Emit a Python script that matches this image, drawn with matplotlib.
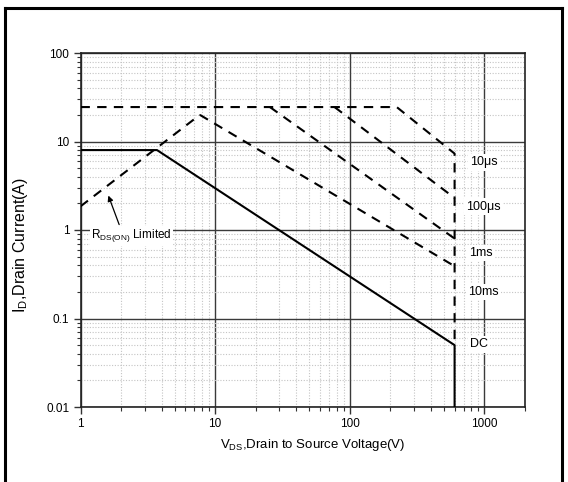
import matplotlib
matplotlib.use("Agg")
import matplotlib.pyplot as plt
from matplotlib.lines import Line2D
from matplotlib.ticker import LogLocator, FixedLocator, NullFormatter, FixedFormatter

plt.rcParams['font.family'] = ['Liberation Sans', 'DejaVu Sans']
plt.rcParams['mathtext.fontset'] = 'custom'
plt.rcParams['mathtext.rm'] = 'Liberation Sans'
plt.rcParams['mathtext.it'] = 'Liberation Sans'

# ---- data ----
dc_v = [1, 3.7, 600, 600]
dc_i = [8, 8, 0.05, 0.01]
rds_v = [1, 7.7]
rds_i = [1.85, 20]
ms10_v = [7.7, 600]
ms10_i = [20, 0.39]
ms1_v = [25.5, 600]
ms1_i = [24.5, 0.8]
us100_v = [77, 600]
us100_i = [24.5, 2.3]
us10_v = [1, 223, 600, 600]
us10_i = [24.5, 24.5, 7.3, 0.05]

x_ticks = [1, 10, 100, 1000]
x_ticklabels = ["1", "10", "100", "1000"]
y_ticks = [0.01, 0.1, 1, 10, 100]
y_ticklabels = ["0.01", "0.1", "1", "10", "100"]

labels = ["10\u03bcs", "100\u03bcs", "1ms", "10ms", "DC"]
label_v = [985, 985, 940, 985, 905]
label_i = [5.8, 1.84, 0.55, 0.2, 0.051]

W, H = 568, 482
fig = plt.figure(figsize=(W / 100, H / 100), dpi=100)
ax = fig.add_axes([80.5 / W, 1 - 407 / H, (525 - 80.5) / W, (407 - 53) / H])
ax.set_xscale('log')
ax.set_yscale('log')
ax.set_xlim(1, 2000)
ax.set_ylim(0.01, 100)

ax.xaxis.set_major_locator(FixedLocator(x_ticks))
ax.xaxis.set_major_formatter(FixedFormatter(x_ticklabels))
ax.yaxis.set_major_locator(FixedLocator(y_ticks))
ax.yaxis.set_major_formatter(FixedFormatter(y_ticklabels))
ax.xaxis.set_minor_locator(LogLocator(base=10, subs=range(2, 10), numticks=20))
ax.yaxis.set_minor_locator(LogLocator(base=10, subs=range(2, 10), numticks=20))
ax.xaxis.set_minor_formatter(NullFormatter())
ax.yaxis.set_minor_formatter(NullFormatter())

ax.grid(which='major', color='#3a3a3a', linestyle='-', linewidth=1.0, zorder=1)
ax.grid(which='minor', color='#c4c4c4', linestyle=(0, (1, 1.5)), linewidth=0.8, zorder=1)
ax.set_axisbelow(True)

ax.tick_params(which='major', direction='out', length=5, width=1, labelsize=8.5, pad=3, color='#333333')
ax.tick_params(which='minor', direction='out', length=3, width=0.8, color='#333333')
for s in ax.spines.values():
    s.set_linewidth(1.2)
    s.set_color('#222222')

dash = (0, (4.5, 3.5))
ax.plot(dc_v, dc_i, color='black', lw=1.5, zorder=3)
for v, i in [(rds_v, rds_i), (ms10_v, ms10_i), (ms1_v, ms1_i), (us100_v, us100_i), (us10_v, us10_i)]:
    ax.plot(v, i, color='black', lw=1.5, linestyle=dash, zorder=3)

for t, v, i in zip(labels, label_v, label_i):
    ax.text(v, i, t, ha='center', va='center', fontsize=9, zorder=4,
            bbox=dict(facecolor='white', edgecolor='none', pad=1.5))

ax.annotate("R$_{\\mathrm{DS(ON)}}$ Limited", xy=(1.61, 2.45), xytext=(1.2, 0.86),
            fontsize=8.5, ha='left', va='center', zorder=4,
            bbox=dict(facecolor='white', edgecolor='none', pad=1.0),
            arrowprops=dict(arrowstyle='-|>', color='black', lw=0.9, mutation_scale=8,
                            shrinkA=1, shrinkB=0, relpos=(0.36, 1.0)))

ax.set_xlabel("V$_{\\mathrm{DS}}$,Drain to Source Voltage(V)", fontsize=9.5)
ax.xaxis.set_label_coords((313 - 80.5) / (525 - 80.5), -(437 - 407) / (407 - 53), transform=ax.transAxes)
ax.set_ylabel("I$_{\\mathrm{D}}$,Drain Current(A)", fontsize=11.5)
ax.yaxis.set_label_coords(-(80.5 - 30) / (525 - 80.5), (407 - 245) / (407 - 53), transform=ax.transAxes)

# outer frame
lw_frame = 2.2
fig.add_artist(Line2D([5 / W, 562 / W], [1 - 8 / H, 1 - 8 / H], color='black', lw=lw_frame, transform=fig.transFigure))
fig.add_artist(Line2D([5 / W, 5 / W], [1 - 8 / H, 0], color='black', lw=lw_frame, transform=fig.transFigure))
fig.add_artist(Line2D([562 / W, 562 / W], [1 - 8 / H, 0], color='black', lw=lw_frame, transform=fig.transFigure))

fig.savefig("out.png", dpi=100)
